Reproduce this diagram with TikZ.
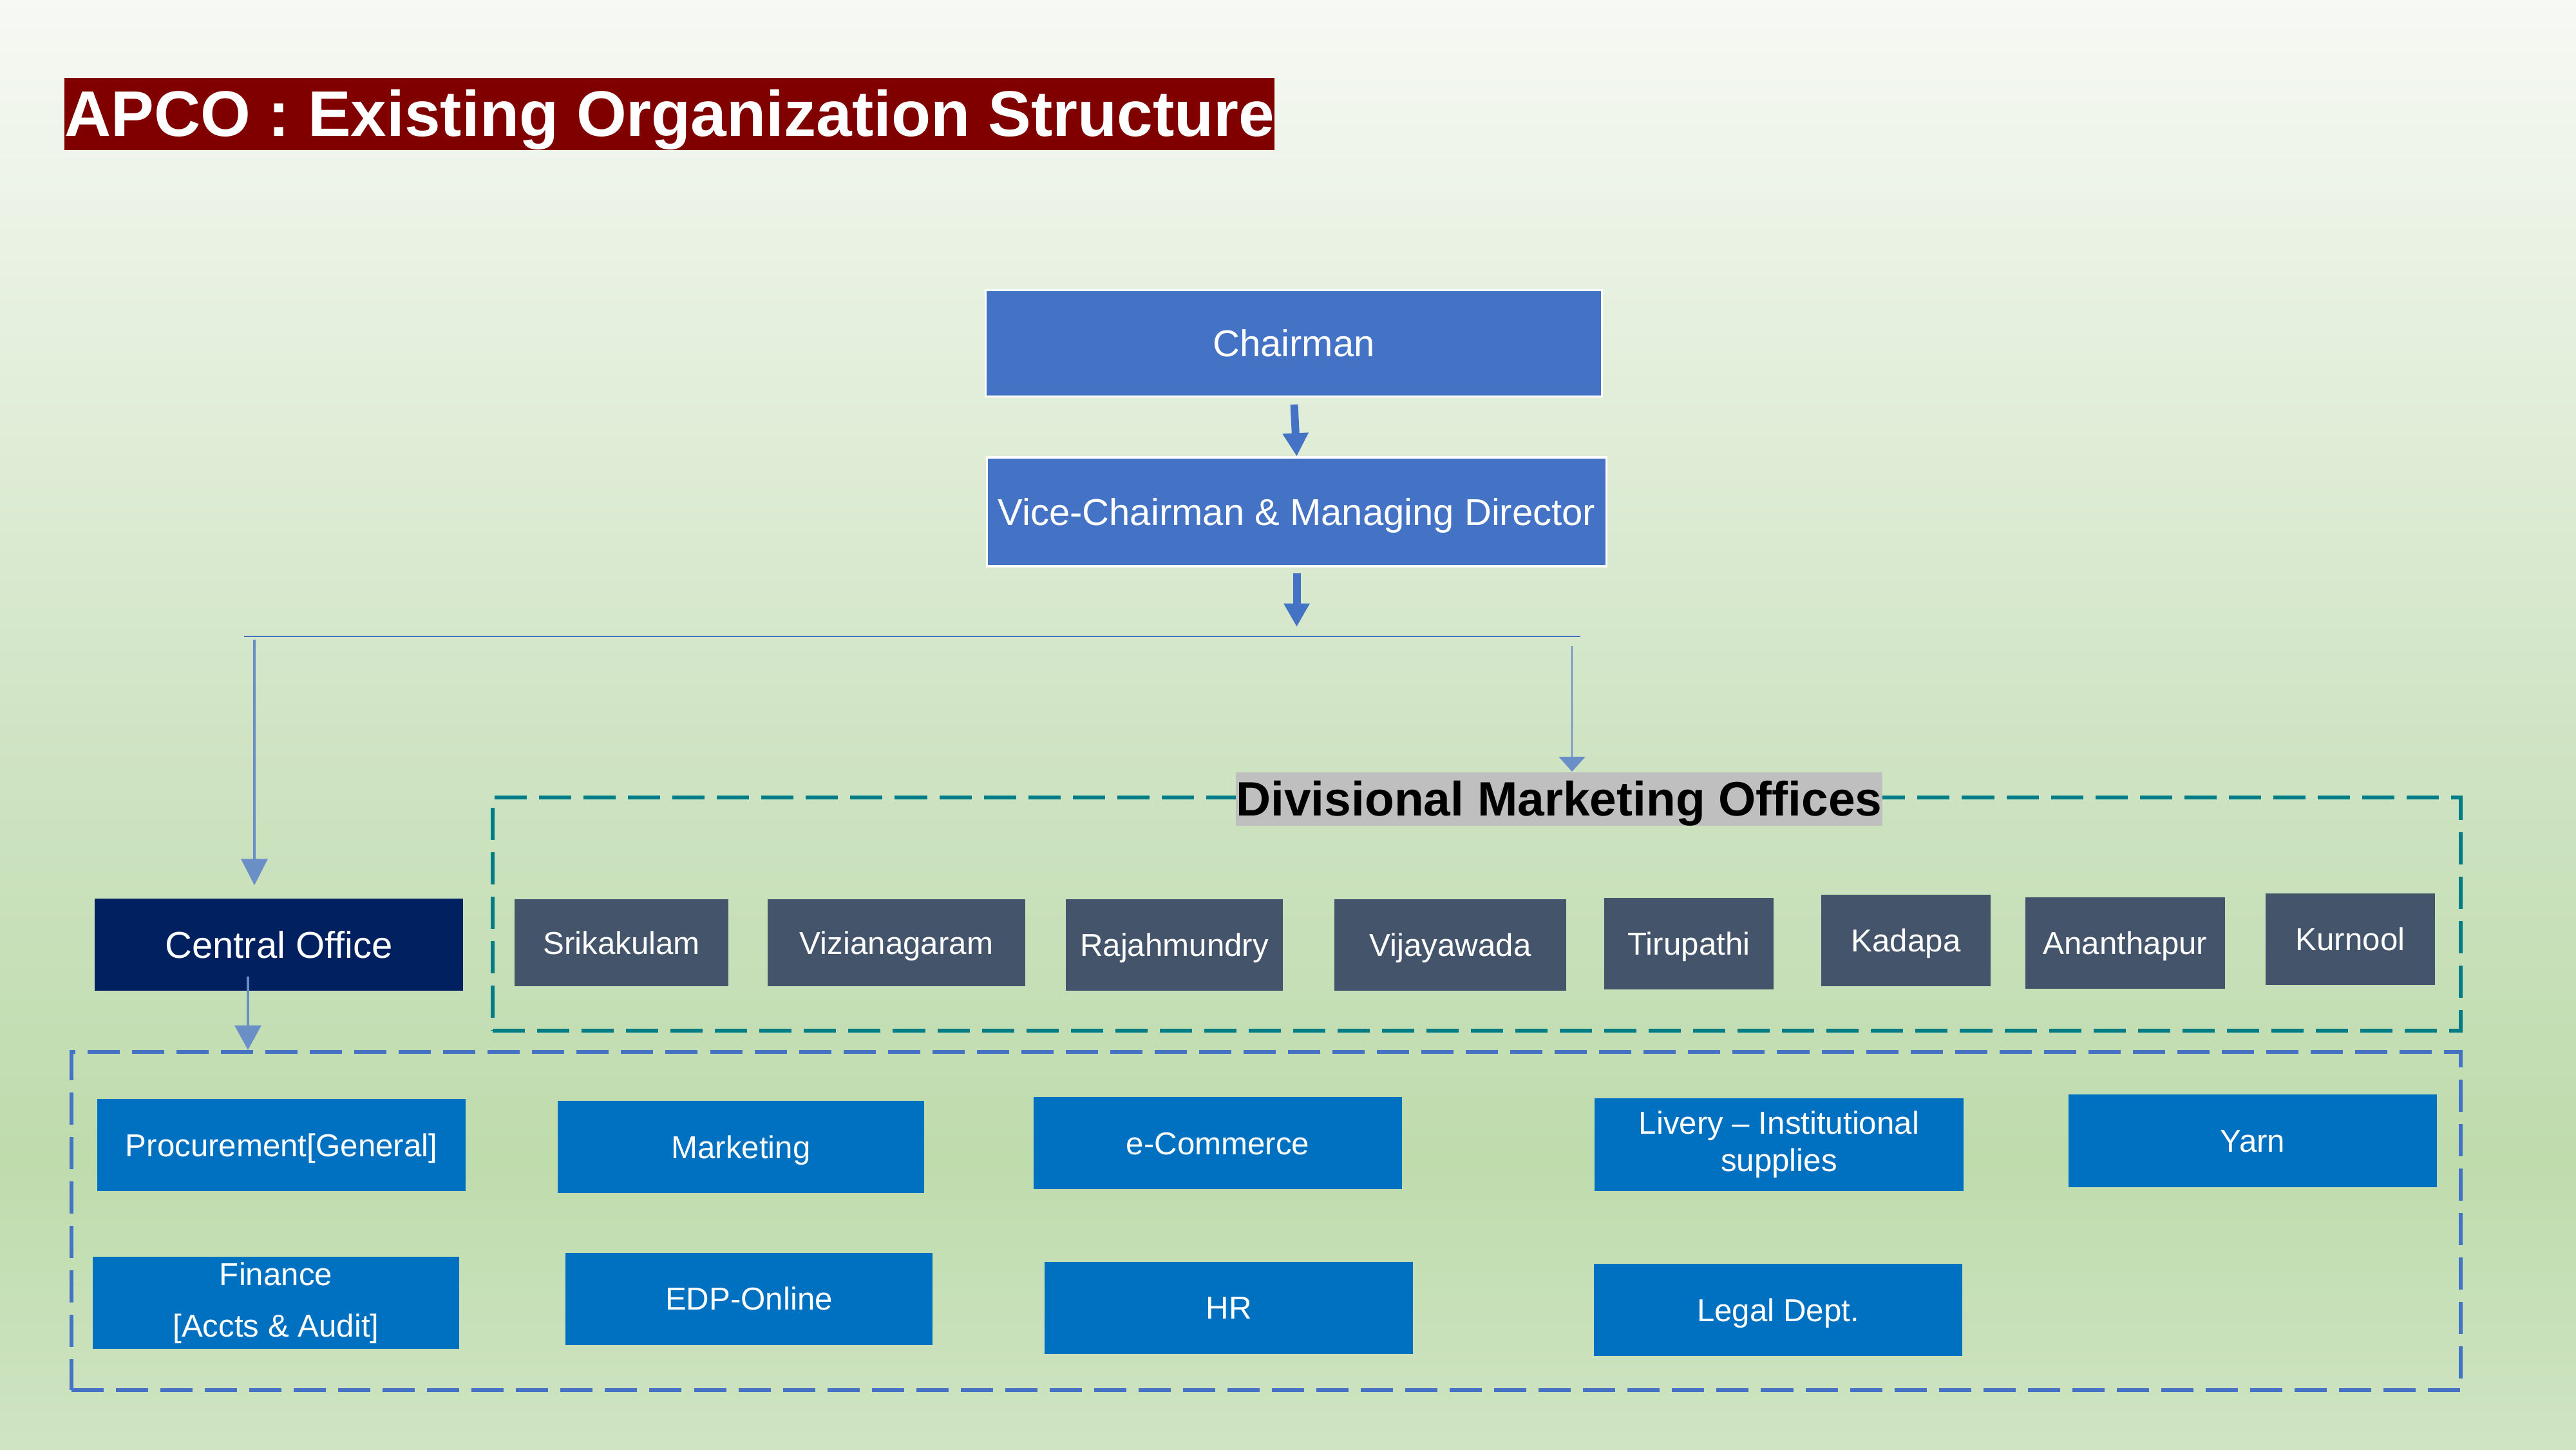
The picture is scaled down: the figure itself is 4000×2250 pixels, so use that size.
\documentclass[tikz,border=0pt]{standalone}
\usepackage{fontspec}
\setmainfont{Liberation Sans}
\usetikzlibrary{arrows.meta}
\definecolor{cMaroon}{HTML}{800000}
\definecolor{cBlue}{HTML}{4472C4}
\definecolor{cNavy}{HTML}{002060}
\definecolor{cSlate}{HTML}{44546A}
\definecolor{cDept}{HTML}{0070C0}
\definecolor{cGray}{HTML}{BFBFBF}
\definecolor{cTeal}{RGB}{0,124,134}
\definecolor{cConn}{HTML}{6A8FC7}
\definecolor{bgA}{HTML}{F7F9F4}
\definecolor{bgB}{HTML}{E2EEDA}
\definecolor{bgC}{HTML}{CEE3C2}
\definecolor{bgD}{HTML}{BFDCAD}
\definecolor{bgE}{HTML}{CFE4C3}
\tikzset{
  orgbox/.style={rectangle, inner sep=0pt, text=white, align=center},
  lineM/.style={text height=11.81pt, text depth=0pt},
  lineS/.style={text height=10.02pt, text depth=0pt},
  topbox/.style={orgbox, lineM, fill=cBlue, draw=white, line width=0.9pt,
    font=\fontsize{16.5}{19.8}\selectfont},
  dmobox/.style={orgbox, lineS, fill=cSlate, font=\fontsize{14}{16.8}\selectfont,
    minimum height=1.42cm},
  dptbox/.style={orgbox, fill=cDept, font=\fontsize{14}{16.8}\selectfont,
    minimum width=5.72cm, minimum height=1.43cm},
  thickarrow/.style={draw=cBlue, line width=3.4pt, -{Triangle[width=0.38cm,length=0.36cm]}},
  thinarrow/.style={draw=cConn, line width=1pt, -{Triangle[width=0.41cm,length=0.41cm]}},
  dbox/.style={rectangle, draw, line width=0.06cm, dash pattern=on 0.5cm off 0.19cm,
    inner sep=0pt},
}
\begin{document}
\begin{tikzpicture}[x=0.01cm, y=-0.01cm]
% background
\shade[top color=bgA, bottom color=bgB] (0,0) rectangle (4000,601);
\shade[top color=bgB, bottom color=bgC] (0,600) rectangle (4000,1201);
\shade[top color=bgC, bottom color=bgD] (0,1200) rectangle (4000,1801);
\shade[top color=bgD, bottom color=bgE] (0,1800) rectangle (4000,2250);
\useasboundingbox (0,0) rectangle (4000,2250);

% title
\node[fill=cMaroon, text=white, font=\bfseries\fontsize{28.45}{34}\selectfont,
  inner xsep=0pt, inner ysep=0pt, minimum height=1.12cm, anchor=west,
  text height=20.48pt, text depth=1.14pt] (title) at (99.5,177)
  {APCO : Existing Organization Structure};

% top hierarchy
\node[topbox, minimum width=9.56cm, minimum height=1.65cm] (ch) at (2009,533) {Chairman};
\node[topbox, minimum width=9.61cm, minimum height=1.69cm] (vc) at (2013.5,794.5)
  {Vice-Chairman \& Managing Director};

\coordinate (barL) at (379,988);
\coordinate (barR) at (2454,988);
\draw[cBlue, line width=0.7pt] (barL) -- (barR);

\draw[thickarrow, shorten <=0.11cm] (ch.south) -- (vc.north);
\draw[thickarrow, shorten <=0.09cm, shorten >=0.15cm] (vc.south) -- (vc.south |- barL);

% dashed group boxes
\node[dbox, draw=cTeal, minimum width=30.54cm, minimum height=3.62cm] (dmo) at (2293,1419) {};
\node[dbox, draw=cBlue, minimum width=37.08cm, minimum height=5.25cm] (cbox) at (1966,1895.5) {};

% divisional label
\node[fill=cGray, text=black, font=\bfseries\fontsize{21.3}{25}\selectfont,
  inner xsep=0pt, inner ysep=0pt, minimum width=10.02cm, minimum height=0.83cm,
  text height=15.25pt, text depth=0pt] (dlabel) at (2421,1240) {Divisional Marketing Offices};

% central office
\node[orgbox, lineM, fill=cNavy, font=\fontsize{16.5}{19.8}\selectfont,
  minimum width=5.72cm, minimum height=1.43cm] (co) at (433,1466.5) {Central Office};

% connectors from bar
\coordinate (dL) at (395,993);
\draw[thinarrow, shorten >=0.20cm] (dL) -- (dL |- co.north);
\coordinate (dR) at (2441,1003);
\draw[draw=cConn, line width=0.6pt, -{Triangle[width=0.41cm,length=0.23cm]}]
  (dR) -- (dR |- dlabel.north);
\coordinate (dC) at (385,1516);
\draw[draw=cConn, line width=0.9pt, -{Triangle[width=0.41cm,length=0.38cm]}]
  (dC) -- (dC |- cbox.north);

% divisional offices
\node[dmobox, minimum width=3.32cm, minimum height=1.35cm] (d1) at (965,1463.5) {Srikakulam};
\node[dmobox, minimum width=4.00cm, minimum height=1.35cm] (d2) at (1392,1463.5) {Vizianagaram};
\node[dmobox, minimum width=3.37cm] (d3) at (1823.5,1467) {Rajahmundry};
\node[dmobox, minimum width=3.60cm] (d4) at (2252,1467) {Vijayawada};
\node[dmobox, minimum width=2.63cm] (d5) at (2622.5,1465) {Tirupathi};
\node[dmobox, minimum width=2.63cm] (d6) at (2959.5,1460) {Kadapa};
\node[dmobox, minimum width=3.10cm] (d7) at (3300,1464) {Ananthapur};
\node[dmobox, minimum width=2.63cm] (d8) at (3649.5,1458) {Kurnool};

% central office departments
\node[dptbox, lineS] (p1) at (437,1777.5) {Procurement[General]};
\node[dptbox, lineS, minimum width=5.69cm] (p2) at (1150.5,1780.5) {Marketing};
\node[dptbox, lineS] (p3) at (1891,1774.5) {e-Commerce};
\node[dptbox, font=\fontsize{14}{16.5}\selectfont] (p4) at (2762.5,1777)
  {Livery -- Institutional\\supplies};
\node[dptbox, lineS] (p5) at (3498,1771) {Yarn};
\node[dptbox, minimum width=5.69cm, font=\fontsize{14}{22.8}\selectfont] (q1) at (428.5,2022.5)
  {Finance\\{}[Accts \& Audit]};
\node[dptbox, lineS, minimum width=5.70cm] (q2) at (1163,2016) {EDP-Online};
\node[dptbox, lineS] (q3) at (1908,2030) {HR};
\node[dptbox, lineS] (q4) at (2761,2033.5) {Legal Dept.};
\end{tikzpicture}
\end{document}
